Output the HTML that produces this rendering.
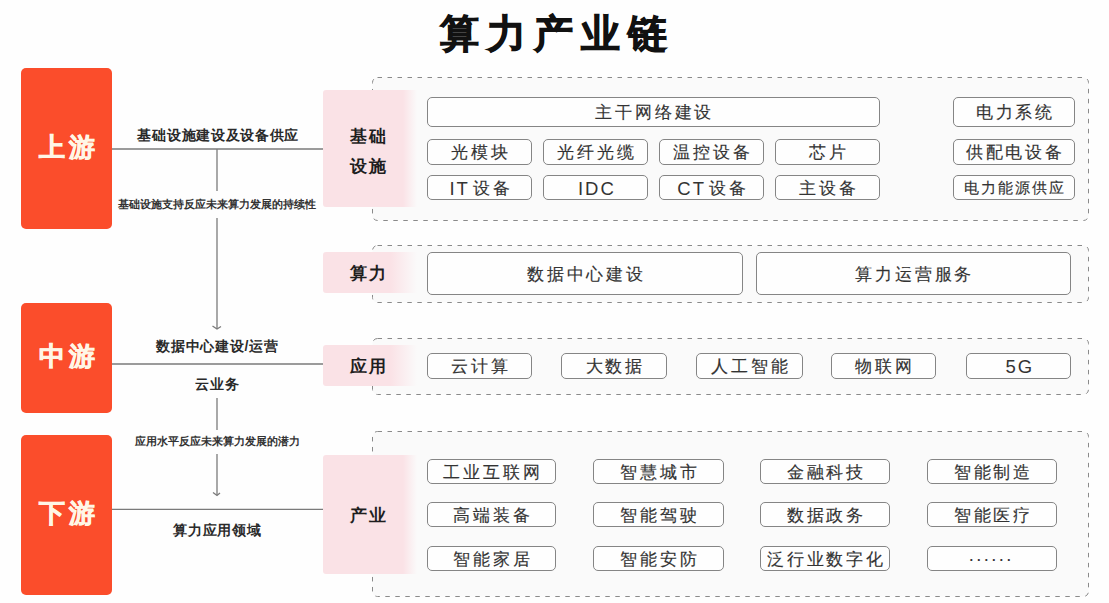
<!DOCTYPE html>
<html><head><meta charset="utf-8">
<style>
html,body{margin:0;padding:0;}
body{width:1109px;height:603px;position:relative;overflow:hidden;background:#fefefe;font-family:"Liberation Sans",sans-serif;color:#333;}
.a{position:absolute;}
.title{left:0;width:1109px;top:8px;text-align:center;font-size:38.5px;font-weight:900;color:#111;letter-spacing:8px;text-indent:5px;line-height:52px;-webkit-text-stroke:1px #111;}
.red{position:absolute;left:21px;width:91px;background:#fb4d2b;border-radius:5px;color:#fff6e6;font-weight:bold;font-size:26px;display:flex;align-items:center;justify-content:center;letter-spacing:4px;text-indent:4px;-webkit-text-stroke:0.7px #fff6e6;}
.lbl{position:absolute;white-space:nowrap;text-align:center;}
.side{font-size:14px;color:#2a2a2a;font-weight:bold;letter-spacing:0.7px;text-indent:0.7px;}
.small{font-size:11px;color:#333;font-weight:bold;}
.pink{position:absolute;left:323px;width:94px;border-radius:3px 0 0 3px;background:linear-gradient(to right,#fae2e6 0%,#fae2e6 72%,rgba(250,226,230,0) 100%);color:#1e1e1e;font-weight:bold;font-size:17px;letter-spacing:2px;padding-right:2px;box-sizing:border-box;display:flex;align-items:center;justify-content:center;text-align:center;line-height:30px;}
.lt{font-size:18.5px;font-weight:normal;-webkit-text-stroke:0;letter-spacing:2px;}
.bx{position:absolute;border:1px solid #858585;border-radius:5px;background:#fefefe;box-sizing:border-box;font-size:16.5px;letter-spacing:2.8px;text-indent:2.8px;padding-top:2px;font-weight:500;-webkit-text-stroke:0.15px #333;color:#333;display:flex;align-items:center;justify-content:center;white-space:nowrap;}
</style></head>
<body>
<div class="a title">算力产业链</div>

<div class="red" style="top:68px;height:161px;padding-bottom:2px;box-sizing:border-box;">上游</div>
<div class="red" style="top:303px;height:110px;padding-bottom:3px;box-sizing:border-box;">中游</div>
<div class="red" style="top:435px;height:160px;padding-bottom:3px;box-sizing:border-box;">下游</div>

<svg class="a" style="left:0;top:0;" width="1109" height="603" viewBox="0 0 1109 603">
<g stroke="#7a7a7a" stroke-width="1.3" fill="none">
<line x1="112" y1="149" x2="323" y2="149"/>
<line x1="112" y1="364" x2="323" y2="364"/>
<line x1="112" y1="509.3" x2="323" y2="509.3"/>
<line x1="217" y1="149" x2="217" y2="191"/>
<line x1="217" y1="218" x2="217" y2="328"/>
<line x1="217" y1="398" x2="217" y2="430"/>
<line x1="217" y1="454" x2="217" y2="495"/>
<polyline points="212.5,326 217,329 221,326.5"/>
<polyline points="213,492.5 217,495.5 220,493"/>
</g></svg>
<div class="lbl side" style="left:118px;width:200px;top:127px;">基础设施建设及设备供应</div>
<div class="lbl small" style="left:107px;width:220px;top:197px;">基础设施支持反应未来算力发展的持续性</div>
<div class="lbl side" style="left:117px;width:200px;top:338px;">数据中心建设/运营</div>
<div class="lbl side" style="left:117px;width:200px;top:376px;">云业务</div>
<div class="lbl small" style="left:107px;width:220px;top:434px;">应用水平反应未来算力发展的潜力</div>
<div class="lbl side" style="left:117px;width:200px;top:522px;">算力应用领域</div>

<svg class="a" style="left:0;top:0;" width="1109" height="603" viewBox="0 0 1109 603">
<g fill="#fafafa" stroke="#8a8a8a" stroke-width="1" stroke-dasharray="4.5 5.5">
<rect x="372.5" y="77.5" width="716" height="143" rx="5"/>
<rect x="372.5" y="245.5" width="716" height="57" rx="5"/>
<rect x="372.5" y="338.5" width="716" height="56" rx="5"/>
<rect x="372.5" y="431.5" width="716" height="165" rx="5"/>
</g></svg>

<div class="pink" style="top:90px;height:117px;padding-top:6px;background:linear-gradient(to right,#fae2e6 0%,#fae2e6 85%,rgba(250,226,230,0) 100%);">基础<br>设施</div>
<div class="pink" style="top:252px;height:41px;padding-top:2px;">算力</div>
<div class="pink" style="top:345px;height:41px;padding-top:2px;">应用</div>
<div class="pink" style="top:455px;height:119px;padding-top:2px;background:linear-gradient(to right,#fae2e6 0%,#fae2e6 85%,rgba(250,226,230,0) 100%);">产业</div>

<div class="bx" style="left:427px;top:97px;width:453px;height:30px;">主干网络建设</div>
<div class="bx" style="left:953px;top:97px;width:122px;height:30px;">电力系统</div>
<div class="bx" style="left:427px;top:139px;width:105px;height:26px;">光模块</div>
<div class="bx" style="left:543px;top:139px;width:105px;height:26px;">光纤光缆</div>
<div class="bx" style="left:659px;top:139px;width:105px;height:26px;">温控设备</div>
<div class="bx" style="left:775px;top:139px;width:105px;height:26px;">芯片</div>
<div class="bx" style="left:953px;top:139px;width:122px;height:26px;">供配电设备</div>
<div class="bx" style="left:427px;top:175px;width:105px;height:25px;"><span class="lt">IT</span>设备</div>
<div class="bx" style="left:543px;top:175px;width:105px;height:25px;"><span class="lt">IDC</span></div>
<div class="bx" style="left:659px;top:175px;width:105px;height:25px;"><span class="lt">CT</span>设备</div>
<div class="bx" style="left:775px;top:175px;width:105px;height:25px;">主设备</div>
<div class="bx" style="left:953px;top:175px;width:122px;height:25px;font-size:15px;letter-spacing:2px;">电力能源供应</div>

<div class="bx" style="left:427px;top:252px;width:316px;height:43px;">数据中心建设</div>
<div class="bx" style="left:756px;top:252px;width:315px;height:43px;">算力运营服务</div>

<div class="bx" style="left:427px;top:353px;width:105px;height:26px;">云计算</div>
<div class="bx" style="left:561px;top:353px;width:106px;height:26px;">大数据</div>
<div class="bx" style="left:696px;top:353px;width:107px;height:26px;">人工智能</div>
<div class="bx" style="left:831px;top:353px;width:105px;height:26px;">物联网</div>
<div class="bx" style="left:966px;top:353px;width:105px;height:26px;"><span class="lt">5G</span></div>

<div class="bx" style="left:427px;top:459px;width:129px;height:25px;">工业互联网</div>
<div class="bx" style="left:593px;top:459px;width:131px;height:25px;">智慧城市</div>
<div class="bx" style="left:760px;top:459px;width:130px;height:25px;">金融科技</div>
<div class="bx" style="left:927px;top:459px;width:130px;height:25px;">智能制造</div>
<div class="bx" style="left:427px;top:502px;width:129px;height:25px;">高端装备</div>
<div class="bx" style="left:593px;top:502px;width:131px;height:25px;">智能驾驶</div>
<div class="bx" style="left:760px;top:502px;width:130px;height:25px;">数据政务</div>
<div class="bx" style="left:927px;top:502px;width:130px;height:25px;">智能医疗</div>
<div class="bx" style="left:427px;top:546px;width:129px;height:25px;">智能家居</div>
<div class="bx" style="left:593px;top:546px;width:131px;height:25px;">智能安防</div>
<div class="bx" style="left:760px;top:546px;width:130px;height:25px;">泛行业数字化</div>
<div class="bx" style="left:927px;top:546px;width:130px;height:25px;"><span style="font-size:13px;letter-spacing:3.2px;text-indent:0;font-weight:bold;-webkit-text-stroke:0;">······</span></div>
</body></html>
